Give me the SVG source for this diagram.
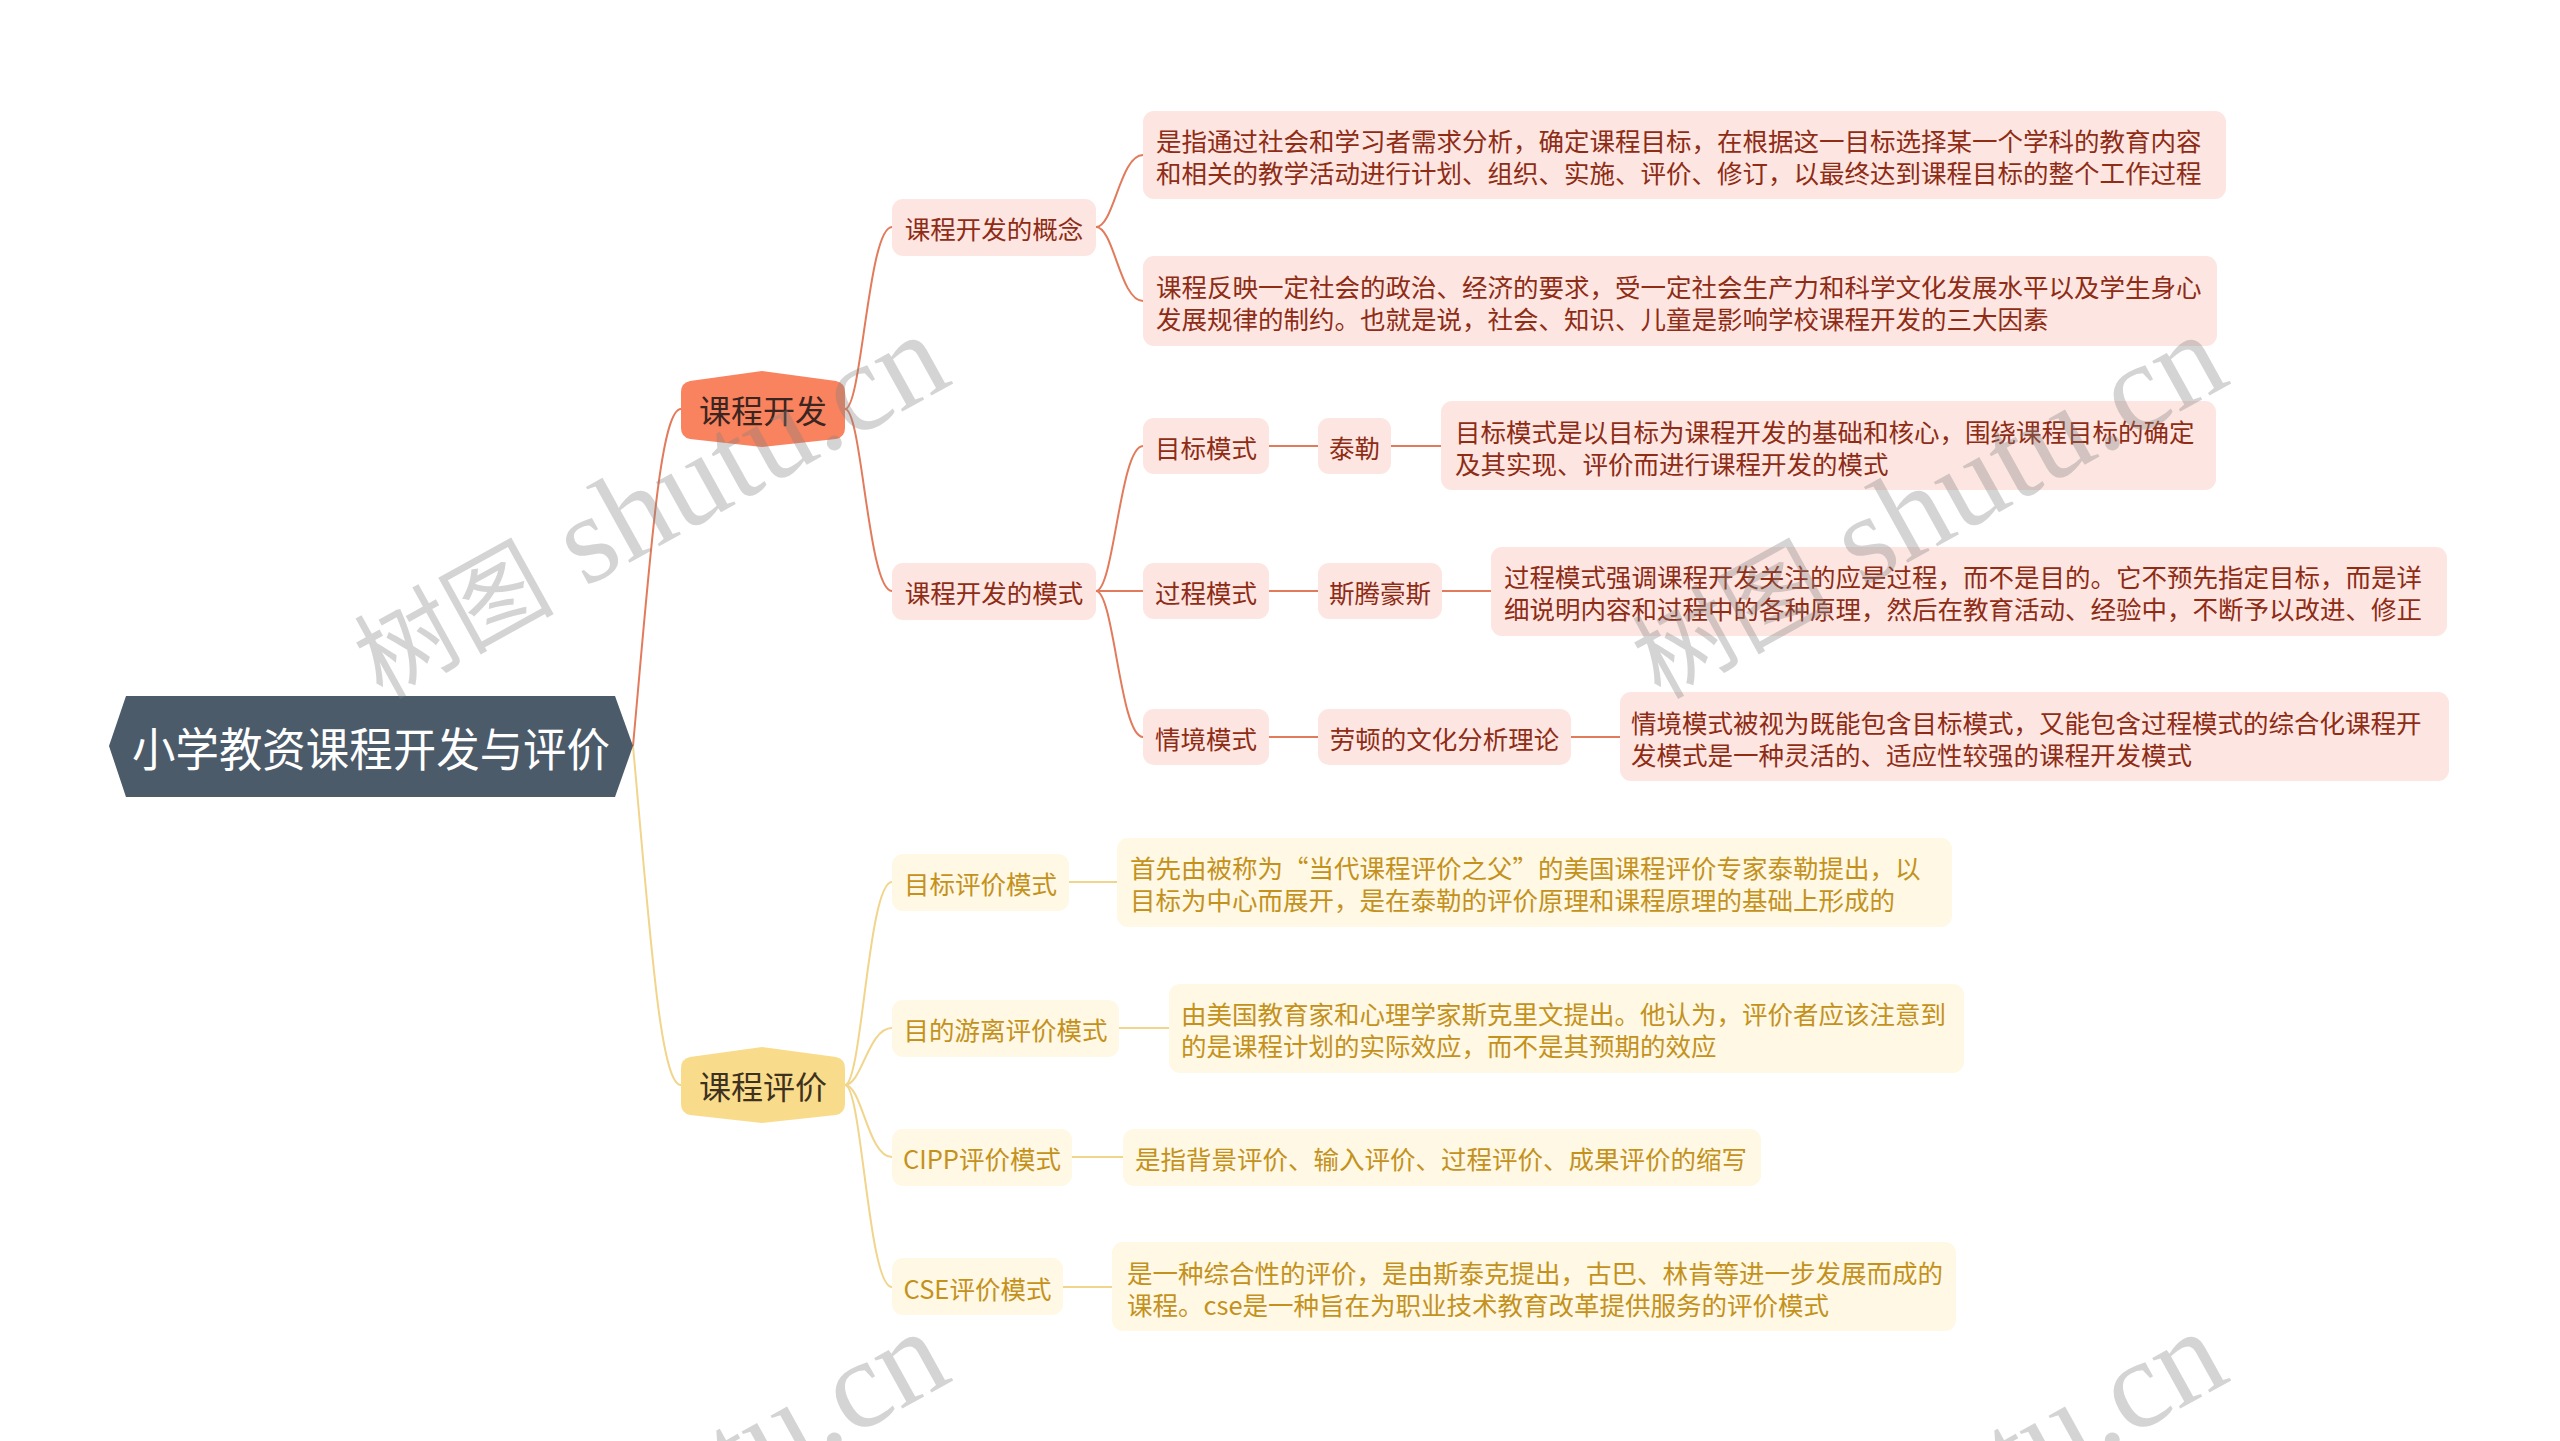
<svg xmlns="http://www.w3.org/2000/svg" width="2560" height="1441" viewBox="0 0 2560 1441">
<style>
text{font-family:"Noto Sans CJK SC","Noto Sans",sans-serif;}
.c{dominant-baseline:central;}
.m{text-anchor:middle;}
.tp{font-size:25.5px;fill:#8e2c16;}
.ty{font-size:25.5px;fill:#c4921c;}
.bp{fill:#fde6e1;}
.by{fill:#fef8e5;}
.lp{fill:none;stroke:#e27b5c;stroke-width:2;}
.ly{fill:none;stroke:#f1d58c;stroke-width:2;}
.wm{fill:#808080;fill-opacity:0.34;}
.wc{font-family:"Noto Sans CJK SC",sans-serif;font-size:100px;}
.wl{font-family:"Liberation Serif",serif;font-size:126px;}
</style>
<rect x="0" y="0" width="2560" height="1441" fill="#ffffff"/>

<g id="connectors">
<path class="lp" d="M633,746 C650,560 660,409 681,409"/>
<path class="ly" d="M633,746 C650,932 660,1085 681,1085"/>
<path class="lp" d="M845,409 C862,409 868,227 892,227"/>
<path class="lp" d="M845,409 C862,409 868,591 892,591"/>
<path class="lp" d="M1096,227 C1114,227 1120,155 1143,155"/>
<path class="lp" d="M1096,227 C1114,227 1120,301 1143,301"/>
<path class="lp" d="M1096,591 C1114,591 1120,446 1143,446"/>
<path class="lp" d="M1096,591 L1143,591"/>
<path class="lp" d="M1096,591 C1114,591 1120,737 1143,737"/>
<path class="lp" d="M1269,446 L1318,446 M1391,446 L1441,446"/>
<path class="lp" d="M1269,591 L1318,591 M1442,591 L1491,591"/>
<path class="lp" d="M1269,737 L1318,737 M1571,737 L1620,737"/>
<path class="ly" d="M845,1085 C862,1085 868,882 892,882"/>
<path class="ly" d="M845,1085 C862,1085 868,1028 892,1028"/>
<path class="ly" d="M845,1085 C862,1085 868,1157 892,1157"/>
<path class="ly" d="M845,1085 C862,1085 868,1287 892,1287"/>
<path class="ly" d="M1069,882 L1117,882"/>
<path class="ly" d="M1119,1028 L1169,1028"/>
<path class="ly" d="M1072,1157 L1123,1157"/>
<path class="ly" d="M1063,1287 L1112,1287"/>
</g>

<g id="root">
<polygon points="109,746 126,696 615,696 633,746 615,797 126,797" fill="#4b5b6a"/>
<text class="c" x="132" y="746" font-size="46" fill="#ffffff" textLength="478" lengthAdjust="spacingAndGlyphs">小学教资课程开发与评价</text>
</g>

<g id="n-kcfz">
<path d="M681,392 Q681,383 690,381 L762,371 L836,381 Q845,383 845,392 L845,428 Q845,437 836,439 L762,447 L690,439 Q681,437 681,428 Z" fill="#f9825f"/>
<text class="c m" x="763" y="409" font-size="32" fill="#3a2520">课程开发</text>
</g>

<g id="n-kcpj">
<path d="M681,1068 Q681,1059 690,1057 L762,1047 L836,1057 Q845,1059 845,1068 L845,1104 Q845,1113 836,1115 L762,1123 L690,1115 Q681,1113 681,1104 Z" fill="#f9dc8b"/>
<text class="c m" x="763" y="1085" font-size="32" fill="#3d3120">课程评价</text>
</g>

<g id="n-gainian">
<rect class="bp" x="892" y="199" width="204" height="57" rx="11"/>
<text class="c m tp" x="994" y="227">课程开发的概念</text>
</g>
<g id="n-gainian-1">
<rect class="bp" x="1143" y="111" width="1083" height="88" rx="11"/>
<text class="c tp" x="1156" y="139">是指通过社会和学习者需求分析，确定课程目标，在根据这一目标选择某一个学科的教育内容</text>
<text class="c tp" x="1156" y="171">和相关的教学活动进行计划、组织、实施、评价、修订，以最终达到课程目标的整个工作过程</text>
</g>
<g id="n-gainian-2">
<rect class="bp" x="1143" y="256" width="1074" height="90" rx="11"/>
<text class="c tp" x="1156" y="285">课程反映一定社会的政治、经济的要求，受一定社会生产力和科学文化发展水平以及学生身心</text>
<text class="c tp" x="1156" y="317">发展规律的制约。也就是说，社会、知识、儿童是影响学校课程开发的三大因素</text>
</g>

<g id="n-moshi">
<rect class="bp" x="892" y="563" width="204" height="57" rx="11"/>
<text class="c m tp" x="994" y="591">课程开发的模式</text>
</g>

<g id="n-mubiao">
<rect class="bp" x="1143" y="418" width="126" height="56" rx="11"/>
<text class="c m tp" x="1206" y="446">目标模式</text>
</g>
<g id="n-taile">
<rect class="bp" x="1318" y="418" width="73" height="56" rx="11"/>
<text class="c m tp" x="1354.5" y="446">泰勒</text>
</g>
<g id="n-taile-d">
<rect class="bp" x="1441" y="401" width="775" height="89" rx="11"/>
<text class="c tp" x="1455" y="430">目标模式是以目标为课程开发的基础和核心，围绕课程目标的确定</text>
<text class="c tp" x="1455" y="462">及其实现、评价而进行课程开发的模式</text>
</g>

<g id="n-guocheng">
<rect class="bp" x="1143" y="563" width="126" height="56" rx="11"/>
<text class="c m tp" x="1206" y="591">过程模式</text>
</g>
<g id="n-stenhouse">
<rect class="bp" x="1318" y="563" width="124" height="56" rx="11"/>
<text class="c m tp" x="1380" y="591">斯腾豪斯</text>
</g>
<g id="n-stenhouse-d">
<rect class="bp" x="1491" y="547" width="956" height="89" rx="11"/>
<text class="c tp" x="1504" y="575">过程模式强调课程开发关注的应是过程，而不是目的。它不预先指定目标，而是详</text>
<text class="c tp" x="1504" y="607">细说明内容和过程中的各种原理，然后在教育活动、经验中，不断予以改进、修正</text>
</g>

<g id="n-qingjing">
<rect class="bp" x="1143" y="709" width="126" height="56" rx="11"/>
<text class="c m tp" x="1206" y="737">情境模式</text>
</g>
<g id="n-lawton">
<rect class="bp" x="1318" y="709" width="253" height="56" rx="11"/>
<text class="c m tp" x="1444.5" y="737">劳顿的文化分析理论</text>
</g>
<g id="n-lawton-d">
<rect class="bp" x="1620" y="692" width="829" height="89" rx="11"/>
<text class="c tp" x="1631" y="721">情境模式被视为既能包含目标模式，又能包含过程模式的综合化课程开</text>
<text class="c tp" x="1631" y="753">发模式是一种灵活的、适应性较强的课程开发模式</text>
</g>

<g id="n-mbpj">
<rect class="by" x="892" y="854" width="177" height="57" rx="11"/>
<text class="c m ty" x="980.5" y="882">目标评价模式</text>
</g>
<g id="n-mbpj-d">
<rect class="by" x="1117" y="838" width="835" height="89" rx="11"/>
<text class="c ty" x="1130" y="866">首先由被称为“当代课程评价之父”的美国课程评价专家泰勒提出，以</text>
<text class="c ty" x="1130" y="898">目标为中心而展开，是在泰勒的评价原理和课程原理的基础上形成的</text>
</g>

<g id="n-mdyl">
<rect class="by" x="892" y="1000" width="227" height="57" rx="11"/>
<text class="c m ty" x="1005.5" y="1028">目的游离评价模式</text>
</g>
<g id="n-mdyl-d">
<rect class="by" x="1169" y="984" width="795" height="89" rx="11"/>
<text class="c ty" x="1181" y="1012">由美国教育家和心理学家斯克里文提出。他认为，评价者应该注意到</text>
<text class="c ty" x="1181" y="1044">的是课程计划的实际效应，而不是其预期的效应</text>
</g>

<g id="n-cipp">
<rect class="by" x="892" y="1129" width="180" height="57" rx="11"/>
<text class="c m ty" x="982" y="1157">CIPP评价模式</text>
</g>
<g id="n-cipp-d">
<rect class="by" x="1123" y="1129" width="638" height="57" rx="11"/>
<text class="c ty" x="1135" y="1157">是指背景评价、输入评价、过程评价、成果评价的缩写</text>
</g>

<g id="n-cse">
<rect class="by" x="892" y="1258" width="171" height="57" rx="11"/>
<text class="c m ty" x="977.5" y="1287">CSE评价模式</text>
</g>
<g id="n-cse-d">
<rect class="by" x="1112" y="1242" width="844" height="89" rx="11"/>
<text class="c ty" x="1127" y="1271">是一种综合性的评价，是由斯泰克提出，古巴、林肯等进一步发展而成的</text>
<text class="c ty" x="1127" y="1303">课程。cse是一种旨在为职业技术教育改革提供服务的评价模式</text>
</g>

<g id="watermarks" class="wm">
<text transform="translate(382,700) rotate(-29)"><tspan class="wc">树图</tspan><tspan class="wl"> shutu.cn</tspan></text>
<text transform="translate(1660,700) rotate(-29)"><tspan class="wc">树图</tspan><tspan class="wl"> shutu.cn</tspan></text>
<text transform="translate(382,1697) rotate(-29)"><tspan class="wc">树图</tspan><tspan class="wl"> shutu.cn</tspan></text>
<text transform="translate(1660,1697) rotate(-29)"><tspan class="wc">树图</tspan><tspan class="wl"> shutu.cn</tspan></text>
</g>
</svg>
